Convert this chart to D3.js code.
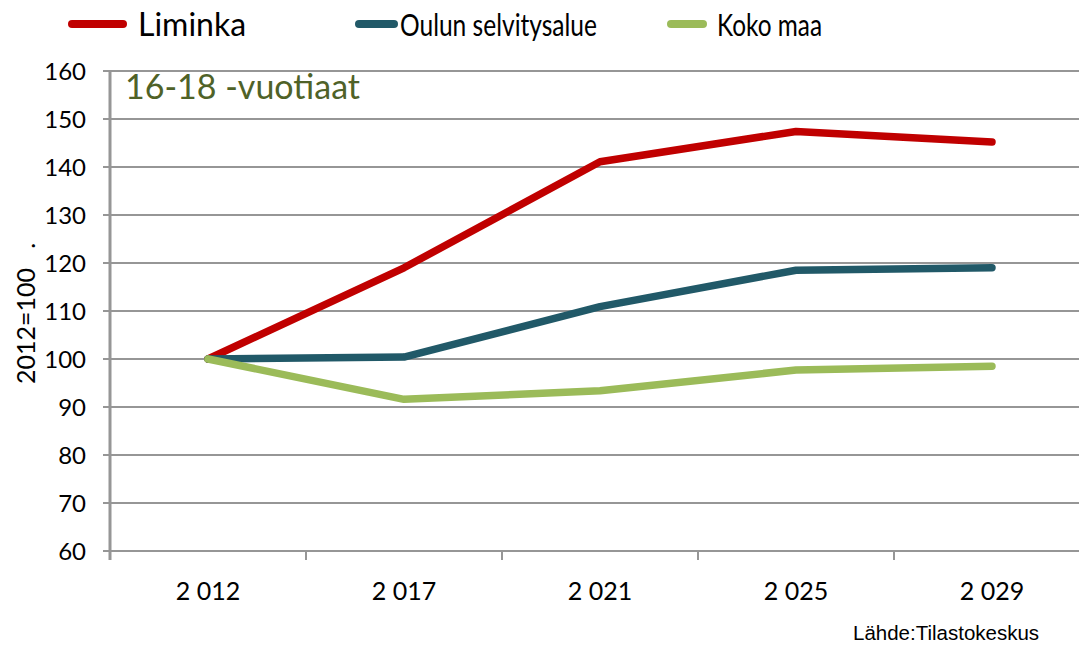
<!DOCTYPE html>
<html>
<head>
<meta charset="utf-8">
<script src="https://cdn.jsdelivr.net/npm/d3@7"></script>
<style>
  body { margin: 0; background: #fff; }
  svg { display: block; }
</style>
</head>
<body>
<div id="chart"></div>
<script>
const years = ['2 012', '2 017', '2 021', '2 025', '2 029'];
const liminka = [100, 119, 141.1, 147.4, 145.2];
const oulu = [100, 100.4, 110.9, 118.5, 119.0];
const kokoMaa = [100, 91.6, 93.4, 97.7, 98.5];
const seriesNames = ['Liminka', 'Oulun selvitysalue', 'Koko maa'];
const yTicks = [60, 70, 80, 90, 100, 110, 120, 130, 140, 150, 160];

const colors = ['#C00000', '#215968', '#9BBB59'];
const allSeries = [liminka, oulu, kokoMaa];

const svgWidth = 1079, svgHeight = 645;
const font = 'Lato, "Noto Sans", sans-serif';

const svg = d3.select('#chart')
    .append('svg')
    .attr('width', svgWidth)
    .attr('height', svgHeight);

const xScale = d3.scaleBand()
    .domain(years)
    .range([110, 1090]);

const yScale = d3.scaleLinear()
    .domain([60, 160])
    .range([551, 71]);

// gridlines
svg.append('g')
    .selectAll('line')
    .data(yTicks)
    .enter()
    .append('line')
    .attr('x1', 103)
    .attr('x2', svgWidth)
    .attr('y1', d => yScale(d))
    .attr('y2', d => yScale(d))
    .attr('stroke', '#969696')
    .attr('stroke-width', 2);

// y tick labels
svg.append('g')
    .selectAll('text')
    .data(yTicks)
    .enter()
    .append('text')
    .attr('x', 86)
    .attr('y', d => yScale(d) + 9)
    .attr('text-anchor', 'end')
    .style('font-family', font)
    .style('font-size', '24px')
    .attr('fill', '#000')
    .text(d => d);

// left axis line
svg.append('line')
    .attr('x1', 110).attr('x2', 110)
    .attr('y1', yScale(160) - 1).attr('y2', yScale(60) + 9)
    .attr('stroke', '#969696')
    .attr('stroke-width', 3);

// x ticks at band edges
const edges = years.map(d => xScale(d)).concat([xScale.range()[1]]);
svg.append('g')
    .selectAll('line')
    .data(edges)
    .enter()
    .append('line')
    .attr('x1', d => d).attr('x2', d => d)
    .attr('y1', yScale(60)).attr('y2', yScale(60) + 9)
    .attr('stroke', '#969696')
    .attr('stroke-width', 2);

// x labels
svg.append('g')
    .selectAll('text')
    .data(years)
    .enter()
    .append('text')
    .attr('x', d => xScale(d) + xScale.bandwidth() / 2)
    .attr('y', 600)
    .attr('text-anchor', 'middle')
    .style('font-family', font)
    .style('font-size', '25px')
    .text(d => d);

// y axis title
svg.append('text')
    .attr('transform', 'translate(35, 384) rotate(-90)')
    .attr('text-anchor', 'start')
    .style('font-family', font)
    .style('font-size', '25px')
    .attr('xml:space', 'preserve')
    .text('2012=100   .');

// lines
const line = d3.line()
    .x((d, i) => xScale(years[i]) + xScale.bandwidth() / 2)
    .y(d => yScale(d));

svg.append('g')
    .selectAll('path')
    .data(allSeries)
    .enter()
    .append('path')
    .attr('d', d => line(d))
    .attr('fill', 'none')
    .attr('stroke', (d, i) => colors[i])
    .attr('stroke-width', 7.5)
    .attr('stroke-linecap', 'round')
    .attr('stroke-linejoin', 'round');

// chart title inside plot
svg.append('text')
    .attr('x', 125)
    .attr('y', 99)
    .style('font-family', font)
    .style('font-size', '34px')
    .attr('fill', '#4F6228')
    .text('16-18 -vuotiaat');

// legend
const legendPos = [
    { x1: 72, x2: 123, tx: 138, w: null },
    { x1: 359, x2: 394, tx: 400, w: 197 },
    { x1: 671, x2: 703, tx: 717, w: 105 }
];
const legend = svg.append('g')
    .selectAll('g')
    .data(seriesNames)
    .enter()
    .append('g');

legend.append('line')
    .attr('x1', (d, i) => legendPos[i].x1)
    .attr('x2', (d, i) => legendPos[i].x2)
    .attr('y1', 24).attr('y2', 24)
    .attr('stroke', (d, i) => colors[i])
    .attr('stroke-width', 8)
    .attr('stroke-linecap', 'round');

legend.append('text')
    .attr('x', (d, i) => legendPos[i].tx)
    .attr('y', 36)
    .attr('textLength', (d, i) => legendPos[i].w)
    .attr('lengthAdjust', (d, i) => legendPos[i].w ? 'spacingAndGlyphs' : null)
    .style('font-family', font)
    .style('font-size', (d, i) => i === 0 ? '32px' : '31px')
    .text(d => d);

// source
svg.append('text')
    .attr('x', 853)
    .attr('y', 640)
    .style('font-family', '"Liberation Sans", Arial, sans-serif')
    .style('font-size', '20.5px')
    .text('Lähde:Tilastokeskus');
</script>
</body>
</html>
